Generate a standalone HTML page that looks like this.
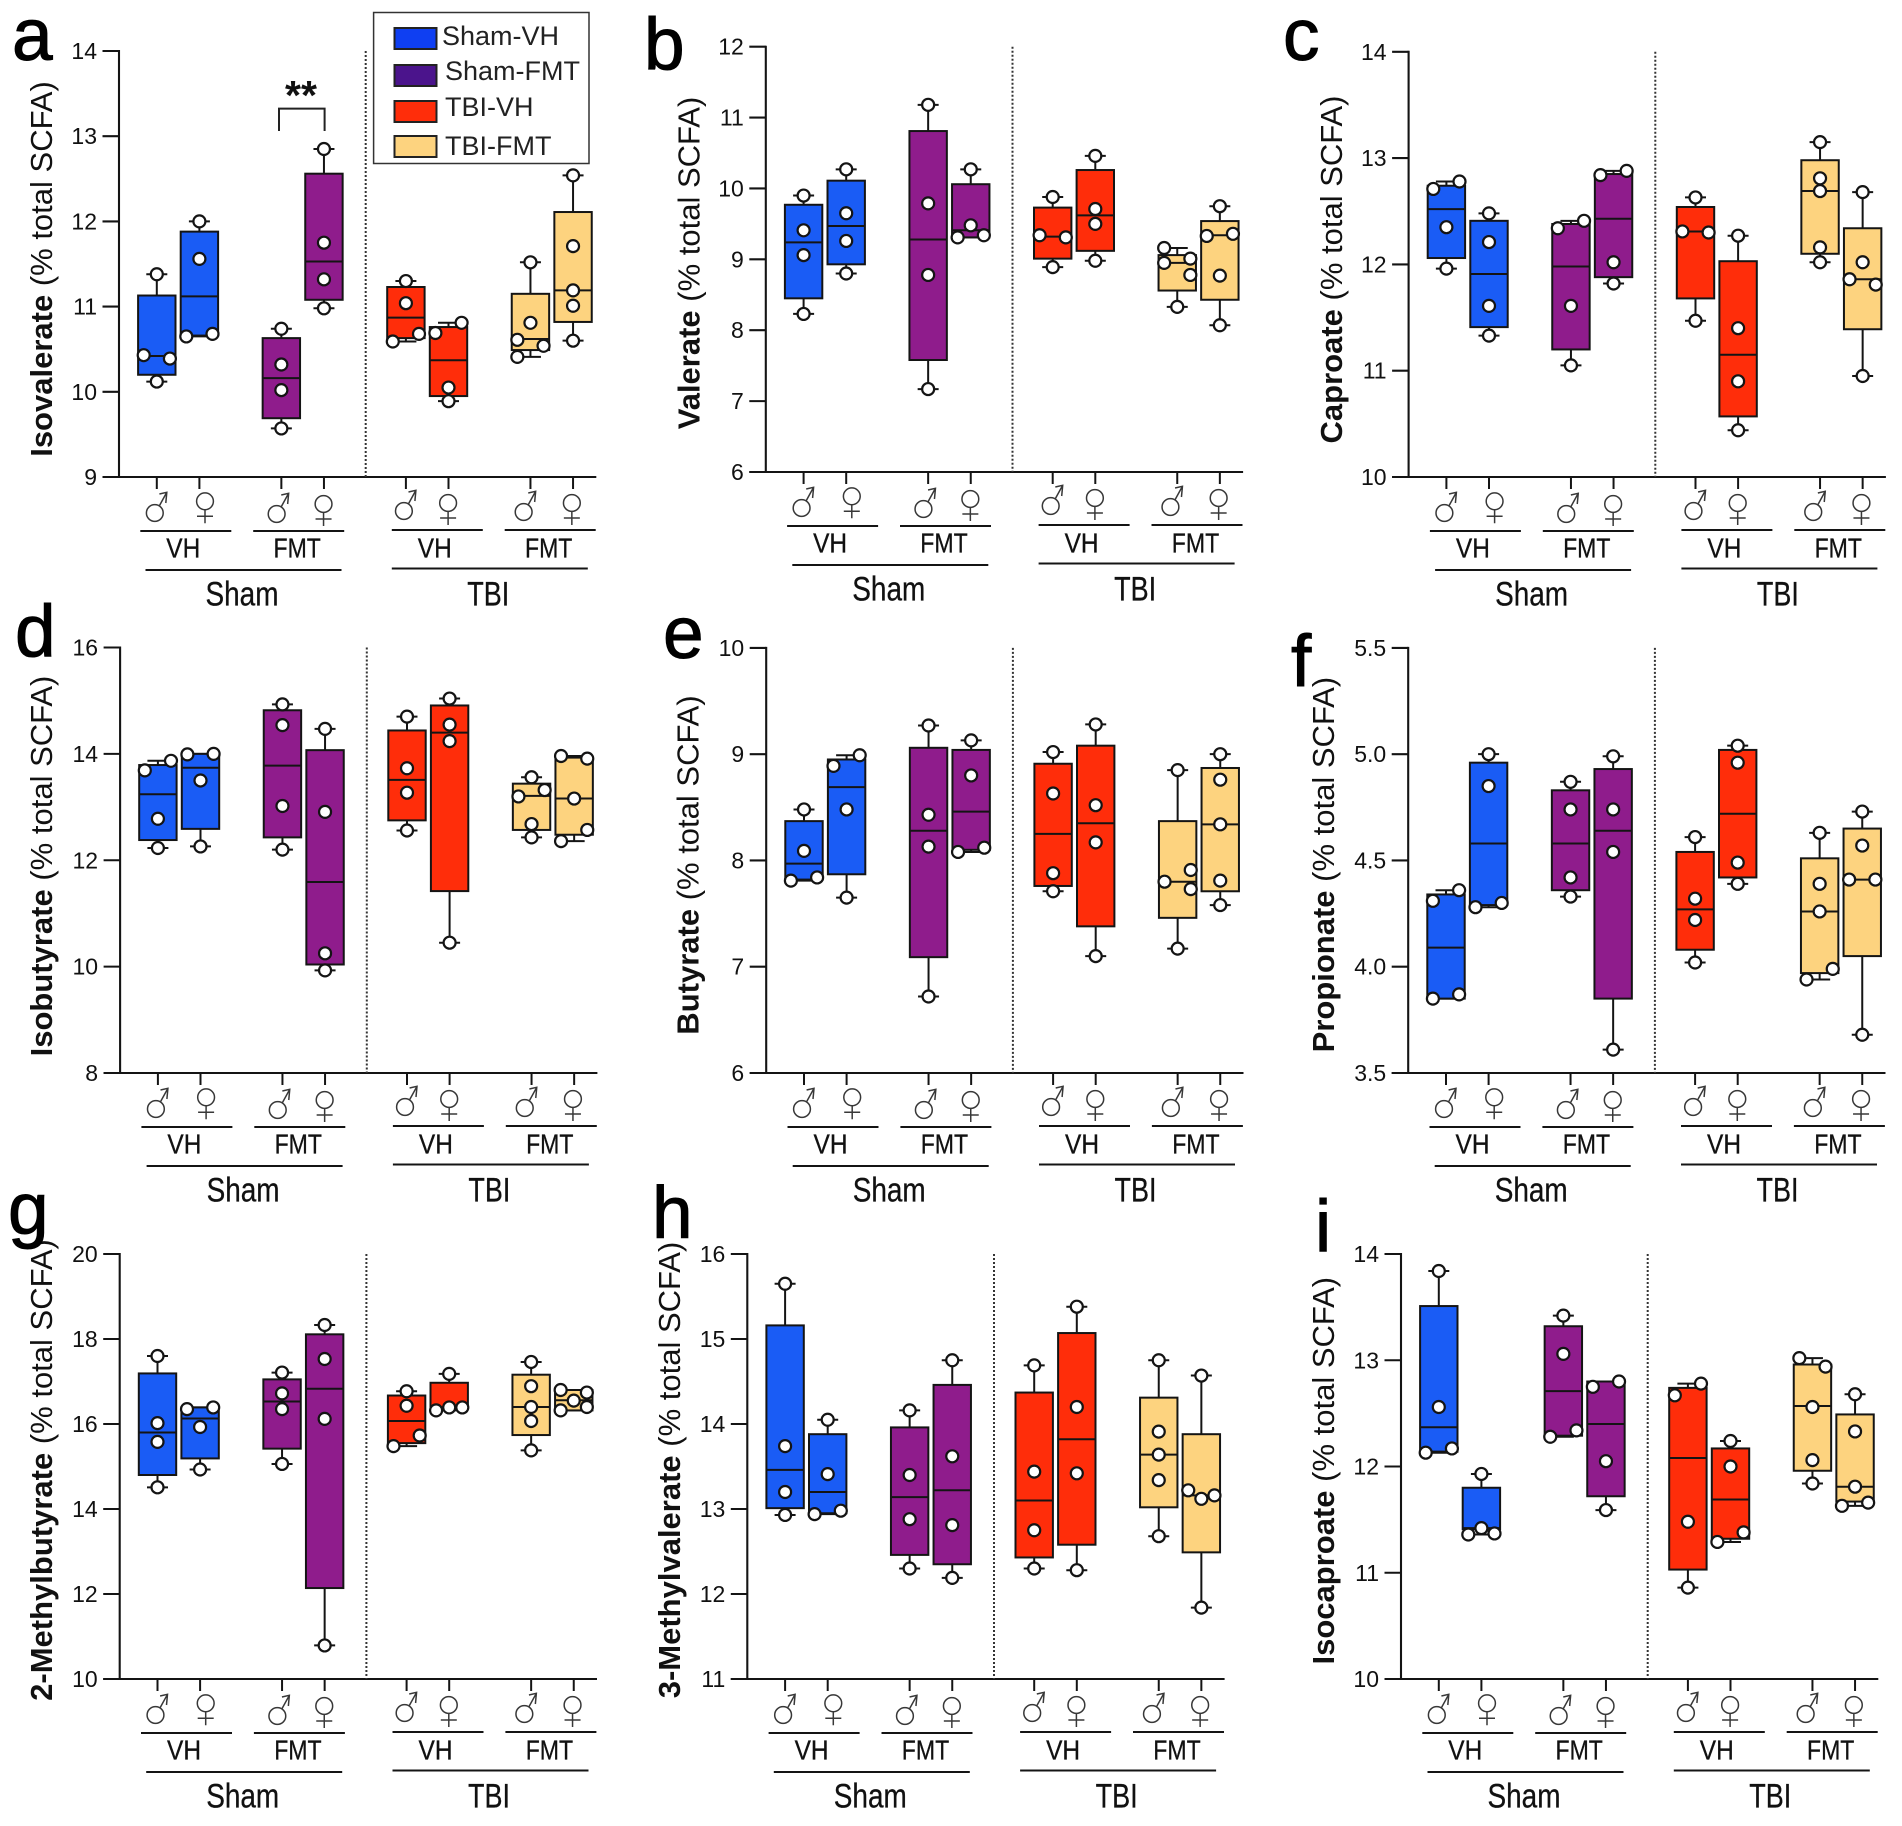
<!DOCTYPE html>
<html lang="en">
<head>
<meta charset="utf-8">
<title>SCFA box plots</title>
<style>
  html, body { margin: 0; padding: 0; background: #fff; }
  svg { display: block; font-family: "Liberation Sans", Arial, sans-serif; filter: blur(0.35px); }
</style>
</head>
<body>
<svg id="figure" xmlns="http://www.w3.org/2000/svg" width="1902" height="1826" viewBox="0 0 1902 1826">
  <rect x="0" y="0" width="1902" height="1826" fill="#ffffff"/>
  <g id="panels"></g>
  <g>
    <rect x="373.6" y="12.5" width="215.4" height="151" fill="#fff" stroke="#333" stroke-width="1.5"/>
    <rect x="394.5" y="28" width="42" height="21" fill="#0f3ff2" stroke="#222" stroke-width="2"/>
    <text x="442" y="45" font-size="27" fill="#222">Sham-VH</text>
    <rect x="394.5" y="65" width="42" height="21" fill="#4b148c" stroke="#222" stroke-width="2"/>
    <text x="445" y="80" font-size="27" fill="#222">Sham-FMT</text>
    <rect x="394.5" y="101" width="42" height="21" fill="#ff2d0a" stroke="#222" stroke-width="2"/>
    <text x="445" y="116" font-size="27" fill="#222">TBI-VH</text>
    <rect x="394.5" y="136" width="42" height="21" fill="#fdd37f" stroke="#222" stroke-width="2"/>
    <text x="445" y="155" font-size="27" fill="#222">TBI-FMT</text>
  </g>
  <g>
    <path d="M279 131V108.6H324.6V131" fill="none" stroke="#222" stroke-width="2"/>
    <text x="301" y="109" font-size="41" font-weight="bold" text-anchor="middle" fill="#111">**</text>
  </g>
</svg>
<script>
const sexLabels = ['♂', '♀', '♂', '♀', '♂', '♀', '♂', '♀'];
const treatmentLabels = ['VH', 'FMT', 'VH', 'FMT'];
const injuryLabels = ['Sham', 'TBI'];
const groupColors = ['#1a5cf5', '#8f1c8c', '#ff2d0a', '#fdd37f'];

const isovalerateTicks = ['9', '10', '11', '12', '13', '14'];
const isovalerateQ1 = [10.20, 10.66, 9.69, 11.08, 10.63, 9.95, 10.49, 10.82];
const isovalerateMedian = [10.42, 11.12, 10.16, 11.53, 10.87, 10.37, 10.62, 11.19];
const isovalerateQ3 = [11.13, 11.88, 10.63, 12.56, 11.23, 10.76, 11.15, 12.11];
const isovalerateDots = [[11.38, 10.43, 10.39, 10.12], [12.00, 11.56, 10.65, 10.68], [10.74, 10.32, 10.02, 9.57], [12.85, 11.75, 11.32, 10.98], [11.30, 11.04, 10.68, 10.59], [10.81, 10.69, 10.05, 9.89], [11.52, 10.81, 10.61, 10.54, 10.41], [12.54, 11.71, 11.19, 11.01, 10.60]];
const isovalerateLanes = [[0, -1, 1, 0], [0, 0, -1, 1], [0, 0, 0, 0], [0, 0, 0, 0], [0, 0, 1, -1], [1, -1, 0, 0], [0, 0, -1, 1, -1], [0, 0, 0, 0, 0]];

const valerateTicks = ['6', '7', '8', '9', '10', '11', '12'];
const valerateQ1 = [8.45, 8.93, 7.58, 9.31, 9.01, 9.12, 8.56, 8.43];
const valerateMedian = [9.24, 9.47, 9.28, 9.41, 9.32, 9.62, 8.95, 9.34];
const valerateQ3 = [9.77, 10.11, 10.81, 10.06, 9.73, 10.26, 9.06, 9.54];
const valerateDots = [[9.90, 9.41, 9.06, 8.23], [10.27, 9.65, 9.26, 8.80], [11.18, 9.79, 8.78, 7.17], [10.27, 9.48, 9.31, 9.34], [9.88, 9.34, 9.31, 8.89], [10.46, 9.71, 9.50, 8.98], [9.16, 9.01, 8.95, 8.78, 8.33], [9.75, 9.33, 9.36, 8.77, 8.07]];
const valerateLanes = [[0, 0, 0, 0], [0, 0, 0, 0], [0, 0, 0, 0], [0, 0, -1, 1], [0, -1, 1, 0], [0, 0, 0, 0], [-1, 1, -1, 1, 0], [0, -1, 1, 0, 0]];

const caproateTicks = ['10', '11', '12', '13', '14'];
const caproateQ1 = [12.06, 11.41, 11.20, 11.88, 11.68, 10.57, 12.10, 11.39];
const caproateMedian = [12.52, 11.91, 11.98, 12.43, 12.31, 11.15, 12.69, 11.86];
const caproateQ3 = [12.74, 12.41, 12.38, 12.85, 12.54, 12.03, 12.98, 12.34];
const caproateDots = [[12.71, 12.78, 12.35, 11.96], [12.48, 12.21, 11.61, 11.33], [12.34, 12.41, 11.61, 11.05], [12.84, 12.88, 12.02, 11.82], [12.63, 12.31, 12.30, 11.47], [12.27, 11.40, 10.90, 10.44], [13.15, 12.81, 12.69, 12.16, 12.02], [12.68, 12.02, 11.86, 11.81, 10.95]];
const caproateLanes = [[-1, 1, 0, 0], [0, 0, 0, 0], [-1, 1, 0, 0], [-1, 1, 0, 0], [0, -1, 1, 0], [0, 0, 0, 0], [0, 0, 0, 0, 0], [0, 0, -1, 1, 0]];

const isobutyrateTicks = ['8', '10', '12', '14', '16'];
const isobutyrateQ1 = [12.38, 12.59, 12.43, 10.04, 12.75, 11.42, 12.57, 12.48];
const isobutyrateMedian = [13.24, 13.74, 13.78, 11.59, 13.51, 14.40, 13.21, 13.16];
const isobutyrateQ3 = [13.79, 14.00, 14.82, 14.07, 14.44, 14.91, 13.44, 13.93];
const isobutyrateDots = [[13.87, 13.69, 12.78, 12.23], [13.99, 14.00, 13.50, 12.26], [14.93, 14.54, 13.02, 12.20], [14.47, 12.91, 10.25, 9.93], [14.70, 13.73, 13.27, 12.56], [15.04, 14.55, 14.24, 10.45], [13.56, 13.32, 13.20, 12.68, 12.43], [13.96, 13.91, 13.16, 12.57, 12.36]];
const isobutyrateLanes = [[1, -1, 0, 0], [-1, 1, 0, 0], [0, 0, 0, 0], [0, 0, 0, 0], [0, 0, 0, 0], [0, 0, 0, 0], [0, 1, -1, 0, 0], [-1, 1, 0, 1, -1]];

const butyrateTicks = ['6', '7', '8', '9', '10'];
const butyrateQ1 = [7.82, 7.87, 7.09, 8.10, 7.76, 7.38, 7.46, 7.71];
const butyrateMedian = [7.97, 8.69, 8.28, 8.46, 8.25, 8.35, 7.80, 8.34];
const butyrateQ3 = [8.37, 8.95, 9.06, 9.04, 8.91, 9.08, 8.37, 8.87];
const butyrateDots = [[8.48, 8.09, 7.81, 7.84], [8.89, 8.99, 8.48, 7.65], [9.27, 8.43, 8.13, 6.72], [9.13, 8.80, 8.08, 8.12], [9.02, 8.63, 7.88, 7.71], [9.28, 8.52, 8.17, 7.10], [8.85, 7.91, 7.80, 7.73, 7.17], [9.00, 8.76, 8.34, 7.81, 7.58]];
const butyrateLanes = [[0, 0, -1, 1], [-1, 1, 0, 0], [0, 0, 0, 0], [0, 0, -1, 1], [0, 0, 0, 0], [0, 0, 0, 0], [0, 1, -1, 1, 0], [0, 0, 0, 0, 0]];

const propionateTicks = ['3.5', '4.0', '4.5', '5.0', '5.5'];
const propionateQ1 = [3.85, 4.29, 4.36, 3.85, 4.08, 4.42, 3.97, 4.05];
const propionateMedian = [4.09, 4.58, 4.58, 4.64, 4.27, 4.72, 4.26, 4.41];
const propionateQ3 = [4.34, 4.96, 4.83, 4.93, 4.54, 5.02, 4.51, 4.65];
const propionateDots = [[4.31, 4.36, 3.85, 3.87], [5.00, 4.85, 4.28, 4.30], [4.87, 4.74, 4.42, 4.33], [4.99, 4.74, 4.54, 3.61], [4.61, 4.32, 4.22, 4.02], [5.04, 4.96, 4.49, 4.39], [4.63, 4.39, 4.26, 3.94, 3.99], [4.73, 4.57, 4.41, 4.41, 3.68]];
const propionateLanes = [[-1, 1, -1, 1], [0, 0, -1, 1], [0, 0, 0, 0], [0, 0, 0, 0], [0, 0, 0, 0], [0, 0, 0, 0], [0, 0, 0, -1, 1], [0, 0, -1, 1, 0]];

const methylbutyrateTicks = ['10', '12', '14', '16', '18', '20'];
const methylbutyrateQ1 = [14.80, 15.19, 15.42, 12.14, 15.55, 16.39, 15.74, 16.32];
const methylbutyrateMedian = [15.80, 16.13, 16.53, 16.83, 16.07, 16.39, 16.40, 16.56];
const methylbutyrateQ3 = [17.19, 16.39, 17.05, 18.11, 16.67, 16.97, 17.16, 16.80];
const methylbutyrateDots = [[17.60, 16.02, 15.58, 14.51], [16.35, 16.39, 15.93, 14.93], [17.21, 16.72, 16.35, 15.06], [18.33, 17.53, 16.12, 10.79], [16.77, 16.43, 15.73, 15.48], [17.18, 16.32, 16.39, 16.39], [17.46, 16.89, 16.40, 16.07, 15.38], [16.80, 16.74, 16.55, 16.32, 16.40]];
const methylbutyrateLanes = [[0, 0, 0, 0], [-1, 1, 0, 0], [0, 0, 0, 0], [0, 0, 0, 0], [0, 0, 1, -1], [0, -1, 0, 1], [0, 0, 0, 0, 0], [-1, 1, 0, -1, 1]];

const methylvalerateTicks = ['11', '12', '13', '14', '15', '16'];
const methylvalerateQ1 = [13.01, 12.95, 12.46, 12.35, 12.43, 12.58, 13.02, 12.49];
const methylvalerateMedian = [13.46, 13.20, 13.14, 13.22, 13.10, 13.82, 13.64, 13.16];
const methylvalerateQ3 = [15.16, 13.88, 13.96, 14.46, 14.37, 15.07, 14.31, 13.88];
const methylvalerateDots = [[15.65, 13.74, 13.20, 12.93], [14.05, 13.41, 12.94, 12.98], [14.16, 13.40, 12.88, 12.30], [14.75, 13.62, 12.81, 12.19], [14.69, 13.44, 12.75, 12.30], [15.38, 14.20, 13.42, 12.28], [14.75, 13.91, 13.64, 13.34, 12.68], [14.57, 13.22, 13.12, 13.16, 11.84]];
const methylvalerateLanes = [[0, 0, 0, 0], [0, 0, -1, 1], [0, 0, 0, 0], [0, 0, 0, 0], [0, 0, 0, 0], [0, 0, 0, 0], [0, 0, 0, 0, 0], [0, -1, 0, 1, 0]];

const isocaproateTicks = ['10', '11', '12', '13', '14'];
const isocaproateQ1 = [12.14, 11.41, 12.29, 11.72, 11.03, 11.32, 11.96, 11.67];
const isocaproateMedian = [12.37, 11.42, 12.71, 12.40, 12.08, 11.69, 12.57, 11.81];
const isocaproateQ3 = [13.51, 11.80, 13.32, 12.80, 12.74, 12.17, 12.96, 12.49];
const isocaproateDots = [[13.84, 12.56, 12.13, 12.17], [11.93, 11.42, 11.36, 11.37], [13.42, 13.06, 12.28, 12.34], [12.75, 12.80, 12.05, 11.59], [12.67, 12.78, 11.48, 10.86], [12.24, 12.00, 11.29, 11.38], [13.02, 12.94, 12.56, 12.06, 11.84], [12.68, 12.33, 11.81, 11.63, 11.66]];
const isocaproateLanes = [[0, 0, -1, 1], [0, 0, -1, 1], [0, 0, -1, 1], [-1, 1, 0, 0], [-1, 1, 0, 0], [0, 0, -1, 1], [-1, 1, 0, 0, 0], [0, 0, 0, -1, 1]];

const panels = [
  { letter: 'a', name: 'isovalerate', title: 'Isovalerate', left: 119, top: 51, bottom: 477, titleX: 52, titleY: 269, letterX: 12, letterY: 60, ticks: isovalerateTicks, q1: isovalerateQ1, median: isovalerateMedian, q3: isovalerateQ3, dots: isovalerateDots, lanes: isovalerateLanes },
  { letter: 'b', name: 'valerate', title: 'Valerate', left: 765.8, top: 46.7, bottom: 472, titleX: 699.5, titleY: 263, letterX: 644, letterY: 69, ticks: valerateTicks, q1: valerateQ1, median: valerateMedian, q3: valerateQ3, dots: valerateDots, lanes: valerateLanes },
  { letter: 'c', name: 'caproate', title: 'Caproate', left: 1408.6, top: 51.8, bottom: 477, titleX: 1342, titleY: 269.5, letterX: 1283, letterY: 60, ticks: caproateTicks, q1: caproateQ1, median: caproateMedian, q3: caproateQ3, dots: caproateDots, lanes: caproateLanes },
  { letter: 'd', name: 'isobutyrate', title: 'Isobutyrate', left: 120.1, top: 647.5, bottom: 1073, titleX: 52, titleY: 866, letterX: 15, letterY: 656, ticks: isobutyrateTicks, q1: isobutyrateQ1, median: isobutyrateMedian, q3: isobutyrateQ3, dots: isobutyrateDots, lanes: isobutyrateLanes },
  { letter: 'e', name: 'butyrate', title: 'Butyrate', left: 766.2, top: 647.9, bottom: 1073, titleX: 698.7, titleY: 865, letterX: 663, letterY: 658, ticks: butyrateTicks, q1: butyrateQ1, median: butyrateMedian, q3: butyrateQ3, dots: butyrateDots, lanes: butyrateLanes },
  { letter: 'f', name: 'propionate', title: 'Propionate', left: 1408.2, top: 647.9, bottom: 1073, titleX: 1334, titleY: 864.6, letterX: 1291, letterY: 686, ticks: propionateTicks, q1: propionateQ1, median: propionateMedian, q3: propionateQ3, dots: propionateDots, lanes: propionateLanes },
  { letter: 'g', name: '2-methylbutyrate', title: '2-Methylbutyrate', left: 119.7, top: 1254, bottom: 1679, titleX: 52, titleY: 1470, letterX: 8, letterY: 1234, ticks: methylbutyrateTicks, q1: methylbutyrateQ1, median: methylbutyrateMedian, q3: methylbutyrateQ3, dots: methylbutyrateDots, lanes: methylbutyrateLanes },
  { letter: 'h', name: '3-methylvalerate', title: '3-Methylvalerate', left: 747.3, top: 1254, bottom: 1679, titleX: 680, titleY: 1470, letterX: 652, letterY: 1237.5, ticks: methylvalerateTicks, q1: methylvalerateQ1, median: methylvalerateMedian, q3: methylvalerateQ3, dots: methylvalerateDots, lanes: methylvalerateLanes },
  { letter: 'i', name: 'isocaproate', title: 'Isocaproate', left: 1401, top: 1254, bottom: 1679, titleX: 1334, titleY: 1470.7, letterX: 1315, letterY: 1251, ticks: isocaproateTicks, q1: isocaproateQ1, median: isocaproateMedian, q3: isocaproateQ3, dots: isocaproateDots, lanes: isocaproateLanes }
];

const SVG_NS = 'http://www.w3.org/2000/svg';
const INK = '#141414';
const panelsRoot = document.getElementById('panels');
const sexIconShiftX = [-2, 5.6, -4.7, -0.4, -2, -0.4, -6.8, -1.2];
const sexIconDrop = [36, 24.3, 37, 27, 34, 26, 35, 26];

function make(tag, attrs, parent) {
  const node = document.createElementNS(SVG_NS, tag);
  for (const key in attrs) node.setAttribute(key, attrs[key]);
  parent.appendChild(node);
  return node;
}

function xAxisFor(panel) {
  return function (i) {
    return panel.left + 37.8 + Math.floor(i / 2) * 124.55 + (i % 2) * 42.6;
  };
}

function yAxisFor(panel) {
  const low = parseFloat(panel.ticks[0]);
  const high = parseFloat(panel.ticks[panel.ticks.length - 1]);
  return function (v) {
    return panel.bottom - (v - low) / (high - low) * (panel.bottom - panel.top);
  };
}

function drawAxes(panel, group, y) {
  const yLine = make('line', { x1: panel.left, x2: panel.left, y1: panel.top - 1, y2: panel.bottom, stroke: INK, 'stroke-width': 2.1 }, group);
  
  
  const xLine = make('line', { x1: panel.left - 16.5, x2: panel.left + 477.3, y1: panel.bottom, y2: panel.bottom, stroke: INK, 'stroke-width': 2.1 }, group);
  
  
  const divider = make('line', { x1: panel.left + 246.7, x2: panel.left + 246.7, y1: panel.top, y2: panel.bottom, stroke: '#333', 'stroke-width': 2, 'stroke-dasharray': '2 2' }, group);
  
  
  panel.ticks.forEach(function (label) {
    const tickY = y(parseFloat(label));
    const tick = make('line', { x1: panel.left - 16.5, x2: panel.left, y1: tickY, y2: tickY, stroke: INK, 'stroke-width': 2.1 }, group);
    
    
    const text = make('text', { x: panel.left - 22, y: tickY + 8, 'font-size': 23, 'text-anchor': 'end', fill: '#111' }, group);
    
    
    text.textContent = label;
  });
}

function drawTitle(panel, group) {
  const title = make('text', { transform: 'translate(' + panel.titleX + ',' + panel.titleY + ') rotate(-90)', 'font-size': 31, 'text-anchor': 'middle', fill: '#111' }, group);
  
  
  const strong = make('tspan', { 'font-weight': 'bold' }, title);
  strong.textContent = panel.title;
  const rest = make('tspan', {}, title);
  rest.textContent = ' (% total SCFA)';
  const letter = make('text', { x: panel.letterX, y: panel.letterY, 'font-size': 73, fill: '#000', stroke: '#000', 'stroke-width': 1 }, group);
  
  
  letter.textContent = panel.letter;
}

function drawSexIcon(label, cx, cy, group) {
  const icon = make('g', { fill: 'none', stroke: '#383838', 'stroke-width': 1.5 }, group);
  
  
  make('title', {}, icon).textContent = label;
  make('circle', { cx: cx, cy: cy, r: 8.4 }, icon);
  if (label === '♂') {
    make('path', { d: 'M' + (cx + 4.6) + ' ' + (cy - 7.3) + 'L' + (cx + 12) + ' ' + (cy - 20.7) + 'M' + (cx + 4.6) + ' ' + (cy - 19) + 'L' + (cx + 12) + ' ' + (cy - 20.7) + 'L' + (cx + 11) + ' ' + (cy - 10) }, icon);
  } else {
    make('path', { d: 'M' + cx + ' ' + (cy + 8.4) + 'V' + (cy + 22) + 'M' + (cx - 8) + ' ' + (cy + 15) + 'H' + (cx + 8) }, icon);
  }
}

function drawCategoryAxis(panel, group, x) {
  sexLabels.forEach(function (label, i) {
    const tick = make('line', { x1: x(i), x2: x(i), y1: panel.bottom, y2: panel.bottom + 12, stroke: INK, 'stroke-width': 2 }, group);
    
    
    drawSexIcon(label, x(i) + sexIconShiftX[i], panel.bottom + sexIconDrop[i], group);
  });
  treatmentLabels.forEach(function (label, i) {
    const lineStart = panel.left + 21.3 + i * 112.9 + (i > 1 ? 25.7 : 0);
    const lineY = panel.bottom + (i > 1 ? 53 : 54);
    const rule = make('line', { x1: lineStart, x2: lineStart + 91, y1: lineY, y2: lineY, stroke: INK, 'stroke-width': 2 }, group);
    
    
    const text = make('text', { x: lineStart + 43 + (i % 2 ? 1 : 0), y: panel.bottom + 80.5, 'font-size': 28, 'text-anchor': 'middle', fill: '#111', stroke: '#111', 'stroke-width': 0.3, textLength: label === 'VH' ? 34 : 47.4, lengthAdjust: 'spacingAndGlyphs' }, group);
    
    
    text.textContent = label;
  });
  injuryLabels.forEach(function (label, i) {
    const lineStart = panel.left + (i === 0 ? 26.5 : 272.8);
    const lineY = panel.bottom + (i === 0 ? 93 : 91.5);
    const rule = make('line', { x1: lineStart, x2: lineStart + 196, y1: lineY, y2: lineY, stroke: INK, 'stroke-width': 2 }, group);
    
    
    const text = make('text', { x: lineStart + 96.5, y: panel.bottom + 128.5, 'font-size': 34, 'text-anchor': 'middle', fill: '#111', stroke: '#111', 'stroke-width': 0.3, textLength: i === 0 ? 73 : 42, lengthAdjust: 'spacingAndGlyphs' }, group);
    
    
    text.textContent = label;
  });
}

function drawBox(panel, group, x, y, i) {
  const cx = x(i);
  const color = groupColors[Math.floor(i / 2)];
  const values = panel.dots[i];
  const maxY = y(Math.max.apply(null, values));
  const minY = y(Math.min.apply(null, values));
  const q1Y = y(panel.q1[i]);
  const q3Y = y(panel.q3[i]);
  const medY = y(panel.median[i]);
  const whisker = make('line', { x1: cx, x2: cx, y1: maxY, y2: minY, stroke: INK, 'stroke-width': 2 }, group);
  
  
  const capTop = make('line', { x1: cx - 10.5, x2: cx + 10.5, y1: maxY, y2: maxY, stroke: INK, 'stroke-width': 2 }, group);
  
  
  const capBottom = make('line', { x1: cx - 10.5, x2: cx + 10.5, y1: minY, y2: minY, stroke: INK, 'stroke-width': 2 }, group);
  
  
  const box = make('rect', { x: cx - 18.7, y: q3Y, width: 37.4, height: q1Y - q3Y, fill: color, stroke: INK, 'stroke-width': 2 }, group);
  
  
  const median = make('line', { x1: cx - 18.7, x2: cx + 18.7, y1: medY, y2: medY, stroke: INK, 'stroke-width': 2 }, group);
  
  
  values.forEach(function (value, d) {
    const dot = make('circle', { cx: cx + panel.lanes[i][d] * 13.1, cy: y(value), r: 6, fill: '#fff', stroke: INK, 'stroke-width': 2.2 }, group);
    
    
  });
}

panels.forEach(function (panel) {
  const group = make('g', {}, panelsRoot);
  
  
  const x = xAxisFor(panel);
  const y = yAxisFor(panel);
  drawAxes(panel, group, y);
  drawCategoryAxis(panel, group, x);
  sexLabels.forEach(function (label, i) {
    drawBox(panel, group, x, y, i);
  });
  drawTitle(panel, group);
});
</script>
</body>
</html>
